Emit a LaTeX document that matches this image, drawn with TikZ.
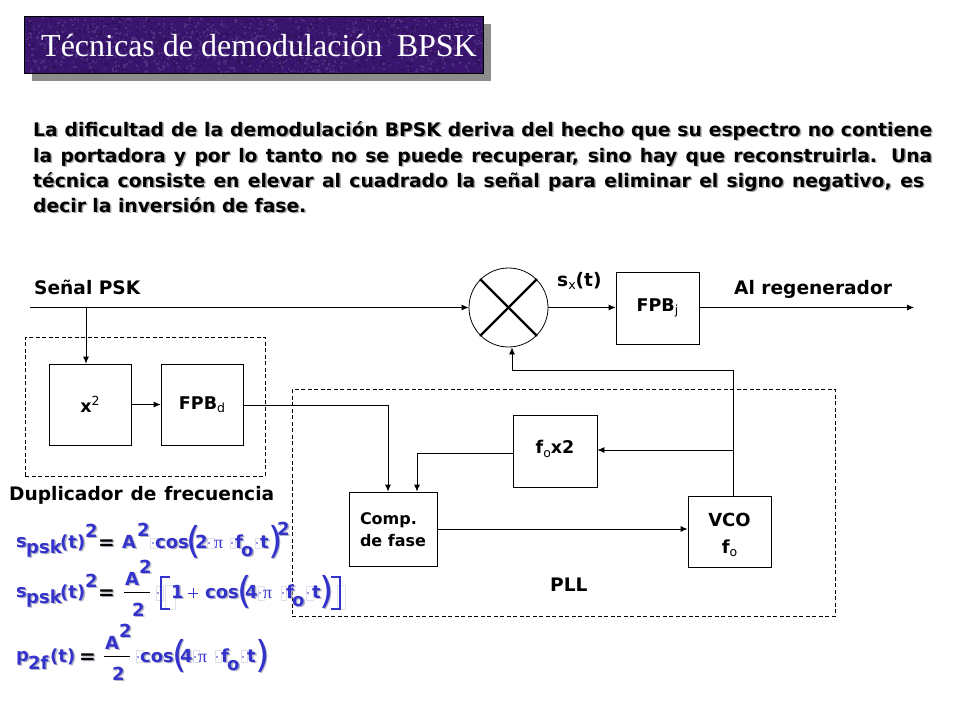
\documentclass[tikz,border=0pt]{standalone}
\usepackage{fontspec}
\setmainfont{DejaVu Sans}
\newfontfamily\titlefont{Liberation Serif}
\usetikzlibrary{arrows.meta,calc}
\definecolor{fblue}{HTML}{3333CC}
\definecolor{fshadow}{HTML}{B4B4C8}
\definecolor{tshadow}{HTML}{AAAAAA}
\definecolor{titlebg}{HTML}{3A1570}
\definecolor{faintbox}{HTML}{E0E0EC}
\newcounter{pc}
\newcommand{\fp}[5][fblue]{% x, y(base), size, text
  \stepcounter{pc}%
  \node[anchor=base west,inner sep=0pt,text=fshadow,font=\fontsize{#4}{#4}\selectfont\bfseries] (sh\thepc) at (#2+1.5,#3+1.5) {#5};
  \node[anchor=base west,inner sep=0pt,text=#1,font=\fontsize{#4}{#4}\selectfont\bfseries] (fp\thepc) at (#2,#3) {#5};
}
\newcommand{\fpar}[3]{\fp{#1}{#2}{37}{\mdseries #3}}
\newcommand{\fpi}[2]{%
  \stepcounter{pc}%
  \node[anchor=base west,inner sep=0pt,text=fblue,font=\titlefont\fontsize{18}{18}\selectfont] (fp\thepc) at (#1,#2) {π};
}
\newcommand{\bline}[3]{% name, y, text
  \node[anchor=base west,inner sep=0pt,text=tshadow,font=\fontsize{18.7}{18.7}\selectfont\bfseries] (#1s) at (34.5,#2+1.5) {#3};
  \node[anchor=base west,inner sep=0pt,font=\fontsize{18.7}{18.7}\selectfont\bfseries] (#1) at (33,#2) {#3};
}
\newcommand{\lsub}[1]{\raisebox{-3.5pt}{\fontsize{12.5}{12.5}\selectfont\mdseries #1}}
\newcommand{\lsup}[1]{\raisebox{6.5pt}{\fontsize{12.5}{12.5}\selectfont\mdseries #1}}
\newcommand{\fdot}[2]{\fill[fblue] (#1,#2) circle (0.9);}
\newcommand{\fbx}[4]{\draw[faintbox,line width=0.7pt] (#1,#2) rectangle (#3,#4);}
\tikzset{
  blockbox/.style={draw,line width=0.8pt,inner sep=0pt,font=\fontsize{17.5}{22}\selectfont\bfseries,align=center},
  conn/.style={line width=0.8pt,-{Latex[length=7pt,width=6pt]}},
  frame/.style={draw,line width=0.8pt,dash pattern=on 4pt off 2.5pt},
  lbl/.style={inner sep=0pt,font=\fontsize{18.6}{18.6}\selectfont\bfseries}
}
\begin{document}
\begin{tikzpicture}[x=1pt,y=-1pt]
\useasboundingbox (0,0) rectangle (960,720);
% title
\fill[fill=black!45] (32,24) rectangle (491,81);
\node[fill=titlebg,minimum width=458pt,minimum height=56pt,inner sep=0pt,anchor=north west] (titlebox) at (24.5,16.5) {};
\begin{scope}
\clip (titlebox.north west) rectangle (titlebox.south east);
\pgfmathsetseed{7}
\foreach \i in {1,...,1100}{
  \pgfmathsetmacro{\xx}{25+458*rnd}
  \pgfmathsetmacro{\yy}{17+55*rnd}
  \pgfmathsetmacro{\sa}{1+1.5*rnd}
  \fill[titlebg!82!black] (\xx,\yy) rectangle +(\sa,\sa);
  \pgfmathsetmacro{\xx}{25+458*rnd}
  \pgfmathsetmacro{\yy}{17+55*rnd}
  \fill[titlebg!90!white] (\xx,\yy) rectangle +(\sa,\sa);
}
\end{scope}
\draw[line width=0.8pt] (titlebox.north west) rectangle (titlebox.south east);
\node[anchor=base west,inner sep=0pt,text=white,font=\titlefont\fontsize{32}{32}\selectfont] (title) at (41,56) {Técnicas de demodulación\hspace{0.45em}BPSK};
% paragraph
\bline{pa}{136}{\makebox[899pt][s]{La dificultad de la demodulación BPSK deriva del hecho que su espectro no contiene}}
\bline{pb}{162}{\makebox[899pt][s]{la portadora y por lo tanto no se puede recuperar, sino hay que reconstruirla. Una}}
\bline{pc}{187}{\makebox[891pt][s]{técnica consiste en elevar al cuadrado la señal para eliminar el signo negativo, es}}
\bline{pd}{212}{decir la inversión de fase.}
% frames
\node[frame,minimum width=240pt,minimum height=139pt,inner sep=0pt,anchor=north west] (dupframe) at (25,337) {};
\node[frame,minimum width=543pt,minimum height=227pt,inner sep=0pt,anchor=north west] (pllframe) at (292,389) {};
% blocks
\node[blockbox,minimum width=82pt,minimum height=81pt] (sq) at (90,404.5) {\raisebox{-5pt}{x\lsup{2}}};
\node[blockbox,minimum width=82pt,minimum height=81pt] (fpbd) at (202,404.5) {\raisebox{-4pt}{FPB\lsub{d}}};
\node[blockbox,minimum width=83pt,minimum height=72pt] (fpbj) at (657.5,308) {\raisebox{-4pt}{FPB\lsub{j}}};
\node[blockbox,minimum width=84pt,minimum height=72pt] (fox) at (555,451) {\raisebox{8pt}{f\lsub{o}x2}};
\node[blockbox,minimum width=88pt,minimum height=74pt,align=left,font=\fontsize{16}{22}\selectfont\bfseries] (comp) at (393,529) {\rule{0pt}{14pt}Comp.\\de fase};
\node[blockbox,minimum width=83pt,minimum height=71pt,font=\fontsize{18}{27}\selectfont\bfseries] (vco) at (729.5,531.5) {\rule{0pt}{20pt}VCO\\f\lsub{o}};
% mixer
\node[draw,circle,line width=0.8pt,minimum size=79pt,inner sep=0pt] (mix) at (508.5,307.5) {};
\draw[line width=2.4pt,line cap=round] ($(mix.center)+(-28,-28)$) -- ($(mix.center)+(28,28)$);
\draw[line width=2.4pt,line cap=round] ($(mix.center)+(-28,28)$) -- ($(mix.center)+(28,-28)$);
% coordinates
\coordinate (in) at (30,307.5);
\coordinate (tap) at (86,307.5);
\coordinate (out) at (914,307.5);
\coordinate (pllcorner) at (388,405);
\coordinate (vcotap) at (733,450);
\coordinate (vcotop) at (733,370);
\coordinate (mixfb) at (512,370);
\coordinate (foxcorner) at (417,453);
% connectors
\draw[conn] (in) -- (mix.west);
\draw[conn] (tap) -- (tap |- sq.north);
\draw[conn] (sq) -- (fpbd);
\draw[conn] (fpbd.east |- pllcorner) -- (pllcorner) -- (pllcorner |- comp.north);
\draw[conn] (comp.east) -- (comp.east -| vco.west);
\draw[conn] (vcotop) -- (mixfb) -- (mix.south -| mixfb);
\draw[line width=0.8pt] (vco.north -| vcotop) -- (vcotop);
\draw[conn] (vcotap) -- (vcotap -| fox.east);
\draw[conn] (foxcorner -| fox.west) -- (foxcorner) -- (foxcorner |- comp.north);
\draw[conn] (mix.east) -- (fpbj.west |- mix.east);
\draw[conn] (fpbj.east |- out) -- (out);
% labels
\node[lbl,anchor=base west] (lpsk) at (34,294) {Señal PSK};
\node[lbl,anchor=base west] (lreg) at (734,294) {Al regenerador};
\node[lbl,anchor=base west] (lsx) at (557,286) {s\lsub{x}(t)};
\node[lbl,anchor=base west] (ldup) at (9,500) {\makebox[265pt][s]{Duplicador de frecuencia}};
\node[lbl,anchor=base west] (lpll) at (550,591) {PLL};
% faint placeholder boxes
\fbx{150}{538}{157}{548}\fbx{207}{538}{214}{548}\fbx{230}{538}{235}{548}\fbx{255}{538}{262}{548}
\fbx{156}{586}{163}{600}\fbx{165}{585}{175}{609}\fbx{258}{586}{264}{600}\fbx{281}{586}{286}{600}\fbx{306}{586}{313}{600}\fbx{337}{585}{345}{609}
\fbx{136}{650}{143}{662}\fbx{193}{650}{199}{662}\fbx{215}{650}{221}{662}\fbx{241}{650}{247}{662}
% formula 1
\fp{16}{547}{18}{s}\fp{26}{553}{18}{psk}\fp{60}{548}{18}{(t)}\fp{85}{537}{18}{2}
\fp[black]{98}{549}{20}{=}
\fp{122}{548}{18}{A}\fp{137}{536}{18}{2}\fdot{153}{543}\fp{155}{548}{18}{cos}
\fpar{186}{553}{(}\fp{195}{548}{18}{2}\fdot{209}{543}
\fpi{214}{548}\fdot{232}{543}\fp{235}{548}{18}{f}\fp{241}{556}{18}{o}\fdot{257}{543}\fp{260}{548}{18}{t}
\fpar{268}{553}{)}\fp{277}{535}{18}{2}
% formula 2
\fp{16}{597}{18}{s}\fp{26}{603}{18}{psk}\fp{60}{598}{18}{(t)}\fp{85}{587}{18}{2}
\fp[black]{98}{599}{20}{=}
\fp{125}{585}{18}{A}\fp{139}{573}{18}{2}
\draw[line width=0.8pt] (124,592) -- (150,592);
\fp{132}{616}{18}{2}
\fdot{158}{593}
\draw[fblue,line width=1.1pt] (170,577) -- (161,577) -- (161,609) -- (170,609);
\draw[fblue,line width=1.1pt] (331,577) -- (340,577) -- (340,609) -- (331,609);
\fp{171}{598}{18}{1}
\draw[fblue,line width=1pt] (188,593) -- (198,593) (193,588) -- (193,598);
\fp{205}{598}{18}{cos}
\fpar{237}{603}{(}\fp{245}{598}{18}{4}\fdot{260}{593}
\fpi{263}{598}\fdot{283}{593}\fp{286}{598}{18}{f}\fp{292}{606}{18}{o}\fdot{308}{593}\fp{312}{598}{18}{t}
\fpar{319}{603}{)}
% formula 3
\fp{16}{661}{18}{p}\fp{28}{669}{18}{2f}\fp{50}{662}{18}{(t)}
\fp[black]{79}{663}{20}{=}
\fp{105}{649}{18}{A}\fp{119}{637}{18}{2}
\draw[line width=0.8pt] (104,656) -- (130,656);
\fp{112}{680}{18}{2}
\fdot{138}{657}
\fp{140}{662}{18}{cos}
\fpar{172}{667}{(}\fp{180}{662}{18}{4}\fdot{195}{657}
\fpi{198}{662}\fdot{217}{657}\fp{221}{662}{18}{f}\fp{227}{670}{18}{o}\fdot{243}{657}\fp{247}{662}{18}{t}
\fpar{255}{667}{)}
\end{tikzpicture}
\end{document}
